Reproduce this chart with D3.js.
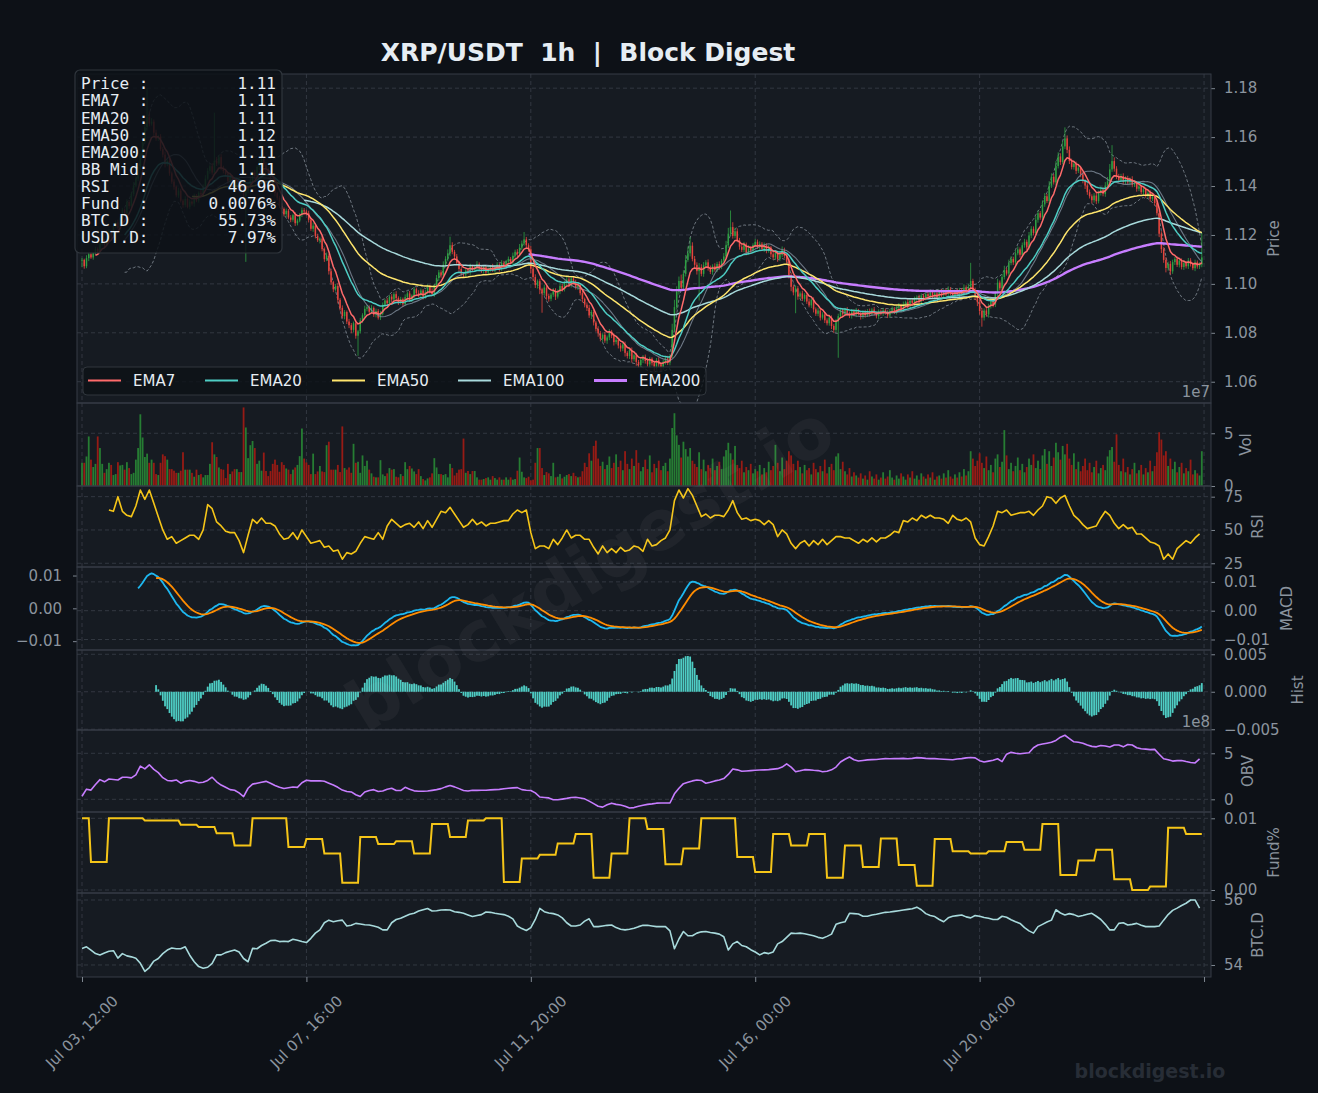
<!DOCTYPE html>
<html>
<head>
<meta charset="utf-8">
<title>XRP/USDT 1h | Block Digest</title>
<script src="https://cdn.jsdelivr.net/npm/d3@7"></script>
<style>
  body { margin: 0; background: #0d1117; }
</style>
</head>
<body>
<svg id="chart"></svg>
<script>
// ---------------- data (hourly from Jul 03 12:00) ----------------
const closes = [
  1.1098,1.1072,1.1105,1.1121,1.1108,1.1126,1.1142,1.1131,1.1165,1.1178,1.1160,1.1189,1.1215,1.1198,1.1236,1.1252,1.1229,1.1271,1.1302,1.1288,
  1.1335,1.1318,1.1367,1.1402,1.1431,1.1478,1.1525,1.1580,1.1641,1.1682,1.1655,1.1663,1.1618,1.1594,1.1602,1.1551,1.1528,1.1489,1.1503,1.1452,
  1.1418,1.1397,1.1362,1.1381,1.1340,1.1322,1.1347,1.1315,1.1336,1.1328,1.1359,1.1341,1.1372,1.1365,1.1398,1.1430,1.1462,1.1481,1.1455,1.1503,
  1.1492,1.1518,1.1476,1.1461,1.1449,1.1421,1.1437,1.1405,1.1398,1.1415,1.1382,1.1391,1.1360,1.1378,1.1402,1.1421,1.1455,1.1440,1.1478,1.1496,
  1.1510,1.1488,1.1469,1.1451,1.1422,1.1398,1.1371,1.1352,1.1319,1.1306,1.1285,1.1299,1.1271,1.1262,1.1281,1.1248,1.1259,1.1283,1.1301,1.1296,
  1.1289,1.1262,1.1225,1.1238,1.1196,1.1178,1.1185,1.1142,1.1101,1.1115,1.1052,1.1006,1.0978,1.0991,1.0935,1.0902,1.0868,1.0885,1.0846,1.0831,
  1.0812,1.0839,1.0788,1.0806,1.0851,1.0872,1.0898,1.0905,1.0886,1.0902,1.0874,1.0889,1.0862,1.0878,1.0915,1.0932,1.0921,1.0948,1.0936,1.0958,
  1.0942,1.0925,1.0938,1.0917,1.0946,1.0961,1.0935,1.0952,1.0978,1.0962,1.0955,1.0973,1.0948,1.0966,1.0989,1.0971,1.0958,1.0992,1.1024,1.1047,
  1.1035,1.1078,1.1102,1.1125,1.1158,1.1131,1.1112,1.1086,1.1061,1.1042,1.1038,1.1055,1.1049,1.1072,1.1058,1.1066,1.1081,1.1063,1.1052,1.1068,
  1.1047,1.1059,1.1071,1.1056,1.1068,1.1079,1.1062,1.1085,1.1073,1.1091,1.1102,1.1088,1.1115,1.1131,1.1122,1.1148,1.1165,1.1182,1.1158,1.1141,
  1.1062,1.1028,1.0995,1.1011,1.0978,1.0962,1.0985,1.0951,1.0939,1.0956,1.0972,1.0948,1.0969,1.0991,1.0978,1.1006,1.1018,1.0995,1.1022,1.1009,
  1.0987,1.0995,1.0962,1.0938,1.0915,1.0902,1.0871,1.0885,1.0842,1.0816,1.0798,1.0775,1.0792,1.0768,1.0781,1.0805,1.0788,1.0762,1.0771,1.0748,
  1.0736,1.0752,1.0718,1.0705,1.0729,1.0692,1.0708,1.0681,1.0668,1.0689,1.0702,1.0685,1.0671,1.0694,1.0676,1.0662,1.0688,1.0671,1.0659,1.0682,
  1.0695,1.0678,1.0705,1.0812,1.0905,1.0968,1.1012,1.0985,1.1041,1.1098,1.1125,1.1156,1.1102,1.1078,1.1052,1.1069,1.1041,1.1076,1.1088,1.1065,
  1.1049,1.1072,1.1058,1.1081,1.1069,1.1095,1.1112,1.1158,1.1205,1.1232,1.1196,1.1215,1.1178,1.1152,1.1139,1.1161,1.1128,1.1145,1.1136,1.1159,
  1.1172,1.1151,1.1164,1.1143,1.1158,1.1135,1.1149,1.1121,1.1108,1.1126,1.1102,1.1118,1.1139,1.1115,1.1092,1.1036,1.0988,1.0965,1.0982,1.0948,
  1.0961,1.0939,1.0955,1.0928,1.0912,1.0935,1.0896,1.0878,1.0891,1.0862,1.0875,1.0851,1.0839,1.0862,1.0828,1.0812,1.0845,1.0868,1.0892,1.0876,
  1.0895,1.0881,1.0869,1.0888,1.0874,1.0891,1.0879,1.0866,1.0885,1.0872,1.0889,1.0877,1.0895,1.0881,1.0868,1.0887,1.0879,1.0892,1.0883,1.0871,
  1.0889,1.0898,1.0885,1.0902,1.0911,1.0896,1.0918,1.0925,1.0909,1.0931,1.0922,1.0938,1.0945,1.0929,1.0952,1.0941,1.0958,1.0949,1.0966,1.0952,
  1.0961,1.0947,1.0968,1.0955,1.0972,1.0959,1.0978,1.0962,1.0951,1.0969,1.0958,1.0975,1.0961,1.0984,1.0969,1.0988,1.1012,1.0975,1.0948,1.0925,
  1.0889,1.0862,1.0891,1.0875,1.0908,1.0932,1.0915,1.0961,1.1005,1.0982,1.1028,1.1056,1.1042,1.1085,1.1102,1.1088,1.1125,1.1141,1.1119,1.1158,
  1.1172,1.1149,1.1198,1.1225,1.1208,1.1262,1.1289,1.1271,1.1325,1.1358,1.1339,1.1402,1.1438,1.1415,1.1482,1.1521,1.1498,1.1562,1.1595,1.1548,
  1.1502,1.1478,1.1491,1.1462,1.1475,1.1448,1.1421,1.1402,1.1375,1.1358,1.1342,1.1361,1.1338,1.1372,1.1385,1.1368,1.1402,1.1419,1.1468,1.1502,
  1.1471,1.1438,1.1425,1.1441,1.1418,1.1432,1.1415,1.1428,1.1405,1.1412,1.1389,1.1398,1.1375,1.1386,1.1361,1.1372,1.1348,1.1356,1.1331,1.1289,
  1.1205,1.1142,1.1098,1.1065,1.1082,1.1051,1.1089,1.1102,1.1078,1.1095,1.1069,1.1085,1.1072,1.1096,1.1081,1.1064,1.1088,1.1071,1.1079,1.1108
];

// wick length above / below the candle body, in 0.0001 price units
const upWick = [
  8,5,12,6,9,4,10,7,5,11,6,9,8,4,12,7,10,5,9,6, 11,7,9,14,8,12,10,15,18,118,22,14,9,12,7,10,8,13,6,9,
  7,10,5,12,8,6,11,7,9,5,10,8,6,12,9,14,11,8,13,197, 15,9,12,7,10,6,11,8,5,9,7,12,6,10,8,13,9,11,7,10,
  14,8,10,6,9,7,12,5,8,11,6,9,7,10,5,12,8,6,11,9, 7,10,6,12,8,9,5,11,7,13,8,10,6,9,12,7,10,8,6,11,
  9,7,12,6,10,8,13,9,7,11,6,10,8,12,9,7,11,6,10,8, 12,7,9,6,11,8,10,5,9,7,12,8,6,10,9,7,11,8,12,10,
  9,14,11,16,35,12,8,10,6,9,7,11,8,10,6,9,12,7,10,8, 6,9,7,11,8,10,5,12,9,7,10,8,13,9,11,15,12,30,10,8,
  14,9,11,7,10,6,12,8,9,7,11,10,8,12,9,7,13,8,10,9, 8,11,7,10,6,9,12,8,10,7,11,9,6,12,8,10,7,9,11,6,
  10,8,12,7,9,11,6,10,8,12,7,9,11,8,6,10,9,12,7,8, 9,11,8,25,30,22,18,26,15,20,28,35,14,12,10,16,11,13,9,12,
  10,8,12,9,11,7,14,18,24,68,20,15,12,10,9,11,8,13,10,7, 12,9,10,7,11,8,10,6,9,12,8,10,14,9,7,11,10,8,12,9,
  8,11,7,9,12,6,10,8,11,7,9,10,8,12,9,7,11,10,8,9, 7,10,6,9,8,11,7,10,6,9,8,10,7,11,6,9,8,10,7,9,
  8,10,7,9,11,8,10,6,12,9,7,10,8,11,9,7,10,8,12,9, 7,10,8,11,6,9,12,8,10,7,11,9,8,14,10,12,74,9,10,8,
  10,12,9,14,11,8,13,10,16,9,12,18,10,14,11,9,13,12,8,11, 12,9,14,11,10,15,12,9,16,13,10,18,14,11,20,17,13,22,45,12,
  14,10,12,9,11,8,10,7,9,11,8,10,12,9,13,10,14,18,22,65, 15,10,12,9,11,8,10,7,12,9,8,10,7,11,8,9,10,7,9,8,
  12,10,8,11,9,12,10,8,11,7,9,12,8,10,9,7,11,8,9,100
];
const downWick = [
  30,10,8,12,6,9,7,11,5,8,10,6,9,12,7,8,6,10,7,9, 8,11,6,9,7,10,12,8,9,14,11,8,12,9,10,7,11,13,8,10,
  9,12,8,10,7,11,9,6,10,8,12,7,9,11,8,10,6,12,9,8, 10,7,11,9,8,12,10,7,9,11,8,10,9,270,8,11,7,10,9,12,
  8,10,12,9,11,7,13,10,8,11,9,12,7,10,8,11,9,7,10,12, 9,11,8,12,10,7,13,9,11,8,14,10,12,9,15,11,8,13,10,12,
  14,10,12,82,9,11,8,10,12,7,9,11,8,10,7,9,12,8,10,9, 8,11,9,10,7,12,8,9,11,7,10,8,12,9,7,10,8,11,9,12,
  10,8,11,9,12,10,13,9,11,8,10,7,9,12,8,10,9,11,7,10, 8,11,9,7,10,8,12,9,10,7,11,8,10,9,12,8,10,9,11,10,
  18,15,12,14,20,80,11,16,12,10,9,14,8,11,10,9,12,8,10,11, 10,12,9,14,11,13,10,15,12,11,14,10,12,9,13,11,10,14,9,12,
  13,11,15,10,12,14,9,16,12,10,13,11,9,14,10,20,12,11,15,10, 12,10,11,8,9,10,12,15,9,11,8,13,10,12,14,120,10,12,9,11,
  9,12,8,10,11,9,8,10,12,9,11,10,8,12,9,10,11,8,10,9, 10,8,11,9,12,10,8,11,9,10,12,8,9,11,10,14,18,12,85,13,
  11,9,12,10,8,11,13,9,10,12,8,11,9,10,13,12,10,147,9,11, 8,10,9,11,7,10,8,12,9,10,7,11,8,10,9,12,8,10,9,11,
  9,11,8,10,12,9,10,8,11,9,10,12,8,10,9,11,8,10,9,12, 10,8,11,9,12,8,10,9,11,10,8,12,9,10,11,9,12,10,14,16,
  15,37,12,10,13,9,11,10,12,9,11,10,8,12,9,11,10,8,12,9, 10,12,9,11,10,8,12,9,11,10,8,12,10,9,11,10,12,9,11,14,
  12,10,11,13,9,12,10,14,11,9,13,10,12,9,11,10,12,9,11,10, 12,10,11,9,12,10,8,11,10,9,12,10,8,11,9,10,12,9,11,10,
  14,16,12,18,11,13,10,12,9,11,10,12,9,11,10,8,12,9,10,11
];

// hourly volume, x1e7
const volumes = [
  2.2,2.2,2.8,4.7,2.5,1.8,2.1,4.7,3.6,2.1,1.25,1.6,2.2,2.0,1.04,1.13,2.26,1.95,2.0,1.55,
  2.26,1.7,1.13,1.25,2.5,3.6,6.8,4.6,2.75,3.07,2.2,2.5,2.2,1.13,1.04,2.2,3.0,2.83,2.5,1.6,
  1.6,1.45,1.25,1.25,1.45,3.2,1.55,1.55,1.55,1.25,0.88,1.55,1.04,1.13,0.82,1.04,1.04,2.1,4.15,3.0,
  2.75,1.76,1.6,1.55,0.75,2.1,1.13,1.38,1.6,1.6,1.32,1.32,7.45,5.55,2.64,3.87,4.27,3.6,2.1,2.4,
  1.45,3.17,1.42,0.94,1.42,2.1,2.5,2.0,1.35,2.26,2.0,1.66,1.55,1.13,1.55,1.76,2.0,2.83,5.45,2.6,
  2.23,2.0,1.13,3.07,1.13,1.38,1.9,1.38,1.32,3.87,4.2,1.55,1.55,1.55,2.0,1.32,5.65,1.7,1.55,1.76,
  1.25,4.0,2.2,2.3,1.25,2.9,1.9,2.4,1.55,1.2,0.88,0.82,0.82,2.45,1.1,0.94,1.2,1.7,1.55,1.6,
  0.88,0.82,1.13,0.94,2.26,1.6,1.9,1.66,1.38,1.13,1.6,0.94,0.66,0.53,0.72,0.82,1.2,2.64,1.76,1.13,
  1.13,1.04,1.13,0.82,2.1,1.7,1.0,1.25,1.55,1.6,4.5,1.25,1.42,1.13,1.42,1.42,0.82,0.6,0.6,0.66,
  0.75,0.82,0.6,0.94,0.75,0.6,0.82,0.6,0.6,0.82,0.6,0.82,0.6,0.66,1.45,2.7,1.35,0.82,0.75,0.88,
  0.53,0.6,2.2,3.6,3.6,1.7,1.04,1.32,1.2,0.94,2.2,0.82,0.88,1.13,0.72,0.88,1.04,1.13,0.94,1.25,
  0.94,0.82,0.88,
  1.4,2.2,1.8,3.1,2.4,3.8,4.3,2.6,1.9,2.3,1.6,2.0,2.8,1.7,2.2,3.0,1.8,
  2.4,1.5,3.3,2.1,1.6,2.6,1.9,3.4,2.2,1.4,1.8,2.5,1.6,2.9,1.3,2.1,1.7,2.4,1.5,1.9,2.2,1.4,2.6,
  5.5,6.9,4.8,3.9,2.7,4.2,3.5,2.8,3.6,2.4,
  2.1,1.8,3.2,1.6,2.5,1.4,2.0,1.7,2.6,1.5,1.9,2.3,1.6,2.8,3.4,4.1,3.1,2.5,3.8,2.0,1.7,2.4,1.3,1.8,1.5,2.1,1.2,1.6,
  1.4,2.0,1.1,1.7,1.3,2.3,1.5,1.9,3.9,2.2,1.4,2.7,1.6,2.4,3.3,2.9,2.1,1.5,2.4,1.8,
  1.2,2.0,1.5,1.7,1.1,2.2,1.6,1.3,1.9,1.4,2.5,1.2,1.8,2.1,1.5,2.8,3.1,1.6,2.3,1.4,1.1,1.7,0.9,1.3,1.0,
  0.8,1.2,0.7,1.0,0.6,1.4,0.9,0.7,1.1,0.6,0.8,1.3,0.7,0.9,1.5,0.8,0.6,1.0,0.7,1.2,
  0.9,0.6,1.1,0.8,1.4,0.7,1.0,0.6,1.2,0.9,0.7,1.1,0.8,1.3,0.6,0.9,1.0,0.7,1.2,0.8,
  1.5,0.9,0.7,1.1,0.8,1.3,0.9,1.6,1.0,1.4,
  3.3,2.6,1.9,2.4,3.1,2.2,1.7,2.8,1.5,2.0,1.3,2.6,3.0,1.8,2.3,5.3,2.9,1.6,2.2,1.4,1.9,2.7,1.5,2.1,1.3,
  1.8,2.6,2.0,3.0,1.7,2.4,1.6,2.9,3.5,2.1,3.3,1.9,2.7,4.1,3.2,2.5,3.8,3.0,4.0,2.6,2.0,3.1,1.6,2.3,1.4,
  1.9,2.6,1.5,2.2,1.3,1.8,2.4,1.2,1.7,2.0,1.5,2.8,3.4,3.7,2.3,4.9,2.0,1.4,2.6,1.3,
  1.8,1.1,1.6,2.2,1.2,1.5,2.0,1.1,1.7,1.3,2.4,1.4,1.9,3.2,
  5.1,4.4,2.9,3.3,1.9,2.6,1.6,2.3,1.3,1.8,2.2,1.2,1.7,1.4,2.5,1.1,1.5,1.2,1.0,3.3
];

// RSI(14), every 2 hours from hour 12
const rsiValues = [
  65,64,75,64,61,60,68,80,73,80, 70,60,50,43,45,40,42,44,46,46,
  43,50,69,66,56,53,49,48,48,42, 33,46,58,55,59,55,55,53,47,43,
  44,48,43,50,45,40,41,42,37,38, 34,35,28,33,32,34,40,45,44,43,
  48,43,53,58,55,52,54,55,52,56, 51,57,52,58,64,63,67,62,57,52,
  54,58,54,56,53,55,55,56,57,57, 62,65,63,65,48,36,38,38,36,43,
  39,44,50,44,46,46,43,43,37,32, 38,33,36,33,37,34,35,38,37,34,
  43,38,39,42,44,50,72,80,74,81, 76,68,60,62,59,61,61,60,65,72,
  63,58,59,57,58,57,54,57,54,45, 50,47,40,36,40,42,38,42,39,43,
  39,42,45,45,44,44,42,40,43,41, 44,41,44,44,46,49,48,57,56,59,
  57,61,59,61,59,59,58,55,61,58, 57,59,56,44,39,38,45,53,64,63,
  65,61,62,63,63,64,61,65,68,75, 74,70,74,76,68,61,58,54,51,52,
  53,59,64,61,55,51,54,51,52,47, 47,44,41,40,38,28,32,28,36,39,
  42,40,44,47
];

// on-balance volume, x1e8, every 2 hours
const obvValues = [
  0.33,1.10,1.00,1.60,2.14,1.90,2.20,2.15,2.10,2.40, 2.40,2.33,2.65,3.60,3.30,3.75,3.25,2.90,2.35,2.05,
  2.00,2.10,1.75,1.95,2.05,1.95,1.80,1.85,2.05,2.40, 1.90,1.55,1.30,1.05,0.98,0.70,0.30,1.20,1.65,1.75,
  1.85,1.95,1.75,1.50,1.30,1.17,1.25,1.34,1.30,1.80, 2.07,2.00,2.00,2.02,1.96,1.75,1.55,1.30,1.00,0.85,
  0.80,0.50,0.30,0.80,0.95,1.05,0.85,0.90,1.10,1.20, 0.95,0.95,1.30,1.10,0.92,0.88,0.87,0.90,0.97,1.05,
  1.16,1.35,1.50,1.35,1.16,0.95,0.90,0.98,0.97,0.98, 0.99,1.02,1.05,1.08,1.15,1.20,1.24,1.27,1.05,0.98,
  0.95,0.70,0.25,0.20,0.15,-0.05,-0.05,0.02,0.10,0.20, 0.22,0.15,0.05,-0.20,-0.47,-0.75,-0.85,-0.60,-0.42,-0.55,
  -0.62,-0.75,-0.95,-0.90,-0.76,-0.65,-0.55,-0.50,-0.42,-0.40, -0.40,-0.40,0.60,1.20,1.70,1.85,2.00,2.10,2.05,1.75,
  1.85,2.00,2.10,2.25,2.70,3.30,3.20,3.05,3.08,3.12, 3.15,3.18,3.20,3.22,3.28,3.33,3.50,3.85,3.50,3.00,
  3.10,3.22,3.20,3.15,3.12,3.00,3.05,3.20,3.50,4.05, 4.35,4.60,4.30,4.16,4.22,4.28,4.31,4.33,4.38,4.42,
  4.40,4.43,4.42,4.45,4.40,4.45,4.53,4.50,4.45,4.42, 4.42,4.38,4.35,4.32,4.30,4.38,4.42,4.50,4.55,4.50,
  4.20,4.05,4.15,4.24,4.40,4.10,4.90,5.10,5.00,4.95, 5.00,5.05,5.60,5.90,6.00,6.10,6.20,6.40,6.75,6.96,
  6.60,6.25,6.20,6.10,5.90,5.75,5.70,5.85,5.80,5.68, 5.90,5.90,5.70,5.95,5.90,5.60,5.50,5.45,5.40,5.42,
  4.90,4.40,4.30,4.15,4.20,4.22,4.10,4.00,3.95,4.40
];

// BTC dominance %, every 2 hours
const btcDominance = [
  54.51,54.56,54.46,54.35,54.31,54.37,54.42,54.44,54.21,54.35, 54.28,54.25,54.21,54.05,53.80,53.92,54.12,54.20,54.35,54.46,
  54.52,54.50,54.50,54.56,54.30,54.10,53.95,53.90,53.93,54.05, 54.31,54.31,54.38,54.42,54.46,54.40,54.20,54.10,54.51,54.50,
  54.60,54.67,54.75,54.76,54.72,54.73,54.72,54.79,54.76,54.72, 54.69,54.82,54.98,55.08,55.30,55.38,55.33,55.36,55.38,55.20,
  55.22,55.28,55.26,55.24,55.23,55.20,55.16,55.08,55.08,55.30, 55.40,55.44,55.50,55.56,55.59,55.66,55.70,55.74,55.66,55.67,
  55.69,55.70,55.69,55.64,55.62,55.59,55.54,55.49,55.52,55.55, 55.63,55.62,55.59,55.57,55.55,55.50,55.42,55.20,55.12,55.06,
  55.15,55.40,55.74,55.64,55.60,55.58,55.54,55.45,55.30,55.20, 55.20,55.23,55.35,55.42,55.18,55.18,55.20,55.22,55.23,55.15,
  55.10,55.08,55.10,55.13,55.18,55.22,55.22,55.20,55.18,55.18, 55.18,55.05,54.50,54.80,55.03,54.90,54.90,54.98,55.02,55.03,
  55.00,54.98,54.95,54.87,54.46,54.65,54.72,54.60,54.56,54.47, 54.40,54.31,54.38,54.35,54.40,54.65,54.72,54.85,54.98,54.97,
  54.98,54.96,54.93,54.90,54.85,54.82,54.88,54.95,55.25,55.30, 55.33,55.59,55.58,55.57,55.50,55.50,55.54,55.56,55.59,55.62,
  55.63,55.65,55.67,55.69,55.71,55.73,55.78,55.70,55.58,55.52, 55.49,55.40,55.33,55.45,55.50,55.52,55.54,55.48,55.45,55.52,
  55.50,55.46,55.44,55.40,55.40,55.50,55.47,55.39,55.33,55.28, 55.15,55.05,54.98,55.18,55.25,55.32,55.38,55.70,55.60,55.54,
  55.58,55.55,55.49,55.52,55.56,55.59,55.50,55.40,55.25,55.08, 55.08,55.28,55.30,55.23,55.25,55.28,55.22,55.18,55.18,55.18,
  55.20,55.38,55.55,55.68,55.75,55.83,55.90,56.00,56.00,55.75
];

// funding rate %, first value from hour 0, then one per 8h period starting hour 4
const fundingRates = [
  0.0100,0.0039,0.0100,0.0100,0.0097,0.0097,0.0091,0.0088,0.0079,0.0062,
  0.0100,0.0100,0.0060,0.0071,0.0051,0.0010,0.0074,0.0064,0.0068,0.0051,
  0.0092,0.0074,0.0097,0.0100,0.0011,0.0044,0.0049,0.0065,0.0078,0.0017,
  0.0051,0.0100,0.0085,0.0036,0.0058,0.0100,0.0100,0.0046,0.0025,0.0078,
  0.0062,0.0078,0.0017,0.0062,0.0032,0.0072,0.0035,0.0006,0.0071,0.0054,
  0.0051,0.0054,0.0067,0.0056,0.0092,0.0021,0.0041,0.0056,0.0015,0.0000,
  0.0005,0.0087,0.0078
];

const xTickValues = [0, 100, 200, 300, 400, 500];
const xTickLabels = ['Jul 03, 12:00', 'Jul 07, 16:00', 'Jul 11, 20:00', 'Jul 16, 00:00', 'Jul 20, 04:00', ''];
const priceTicks = [1.06, 1.08, 1.10, 1.12, 1.14, 1.16, 1.18];
const volTicks = [0, 5];
const rsiTicks = [25, 50, 75];
const macdTicks = [-0.01, 0, 0.01];
const histTicks = [-0.005, 0, 0.005];
const obvTicks = [0, 5];
const fundTicks = [0, 0.01];
const btcdTicks = [54, 56];

const infoLabels = ['Price :', 'EMA7  :', 'EMA20 :', 'EMA50 :', 'EMA200:', 'BB Mid:', 'RSI   :', 'Fund  :', 'BTC.D :', 'USDT.D:'];
const infoValues = ['1.11', '1.11', '1.11', '1.12', '1.11', '1.11', '46.96', '0.0076%', '55.73%', '7.97%'];

const emaNames = ['EMA7', 'EMA20', 'EMA50', 'EMA100', 'EMA200'];
const emaSpans = [7, 20, 50, 100, 200];
const emaColors = ['#ff6b6b', '#4ecdc4', '#ffe66d', '#a8dadc', '#c77dff'];

// ---------------- layout ----------------
const width = 1318, height = 1093;
const plotLeft = 77, plotRight = 1211;
const sansFont = "'DejaVu Sans', sans-serif";
const monoFont = "'DejaVu Sans Mono', monospace";
const gridColor = '#353b45';
const borderColor = '#363c46';
const tickColor = '#8b949e';
const upColor = '#2ea043', downColor = '#e5453d';

const svg = d3.select('#chart')
  .attr('width', width).attr('height', height)
  .style('font-family', sansFont);
svg.append('rect').attr('width', width).attr('height', height).attr('fill', '#0d1117');

const x = d3.scaleLinear().domain([-2.23, 503.1]).range([plotLeft, plotRight]);
const hourPx = x(1) - x(0);

/**
 * Indicator helpers (pandas style ewm, adjust=False, with min periods)
 */
function ewm(src, alpha, minPeriods) {
  let prev = null, n = 0;
  return src.map(v => {
    if (v == null) return null;
    prev = prev == null ? v : alpha * v + (1 - alpha) * prev;
    n++;
    return n >= minPeriods ? prev : null;
  });
}
const ema = (src, span) => ewm(src, 2 / (span + 1), span);

const opens = closes.map((c, i) => i ? closes[i - 1] : c);
const candles = closes.map((c, i) => ({
  t: i,
  open: opens[i],
  close: c,
  high: Math.max(opens[i], c) + upWick[i] * 1e-4,
  low: Math.min(opens[i], c) - downWick[i] * 1e-4,
  up: c >= opens[i]
}));

const emaLines = emaSpans.map(s => ema(closes, s));

const bbMid = [], bbUpper = [], bbLower = [];
closes.forEach((c, i) => {
  if (i < 19) { bbMid.push(null); bbUpper.push(null); bbLower.push(null); return; }
  const win = closes.slice(i - 19, i + 1);
  const m = d3.mean(win);
  const sd = Math.sqrt(d3.mean(win, v => (v - m) * (v - m)));
  bbMid.push(m); bbUpper.push(m + 2 * sd); bbLower.push(m - 2 * sd);
});

const ema12 = ema(closes, 12), ema26 = ema(closes, 26);
const macd = ema12.map((v, i) => (v == null || ema26[i] == null) ? null : v - ema26[i]);
const signal = ema(macd, 9);
const hist = macd.map((v, i) => signal[i] == null ? null : v - signal[i]);

/**
 * Panel builder
 */
const panels = [];
function addPanel(opts) {
  const { id, top, bottom, domain, ticks, fmt, label, labelX } = opts;
  const y = d3.scaleLinear().domain(domain).range([bottom, top]);
  const g = svg.append('g').attr('class', 'panel-' + id);

  g.append('rect')
    .attr('x', plotLeft).attr('y', top)
    .attr('width', plotRight - plotLeft).attr('height', bottom - top)
    .attr('fill', '#161b22');

  // Grid
  g.append('g').selectAll('line').data(xTickValues).join('line')
    .attr('x1', d => x(d)).attr('x2', d => x(d))
    .attr('y1', top).attr('y2', bottom)
    .attr('stroke', gridColor).attr('stroke-width', 0.9).attr('stroke-dasharray', '4,3');
  g.append('g').selectAll('line').data(ticks).join('line')
    .attr('x1', plotLeft).attr('x2', plotRight)
    .attr('y1', d => y(d)).attr('y2', d => y(d))
    .attr('stroke', gridColor).attr('stroke-width', 0.9).attr('stroke-dasharray', '4,3');

  svg.append('clipPath').attr('id', 'clip-' + id)
    .append('rect')
    .attr('x', plotLeft).attr('y', top)
    .attr('width', plotRight - plotLeft).attr('height', bottom - top);
  const plot = g.append('g').attr('clip-path', `url(#clip-${id})`);

  // Right axis
  const axisG = g.append('g')
    .attr('transform', `translate(${plotRight},0)`)
    .call(d3.axisRight(y).tickValues(ticks).tickFormat(fmt).tickSize(4).tickPadding(9));
  styleAxis(axisG);

  g.append('text')
    .attr('transform', `translate(${labelX},${(top + bottom) / 2}) rotate(-90)`)
    .attr('text-anchor', 'middle')
    .attr('dominant-baseline', 'central')
    .attr('font-size', 15)
    .attr('fill', tickColor)
    .text(label);

  const p = { id, top, bottom, y, g, plot };
  panels.push(p);
  return p;
}

function styleAxis(axisG) {
  axisG.select('.domain').remove();
  axisG.selectAll('line').attr('stroke', tickColor).attr('stroke-width', 0.9);
  axisG.selectAll('text')
    .attr('fill', tickColor)
    .attr('font-size', 15)
    .attr('font-family', sansFont);
}

const f2 = d3.format('.2f'), f3 = d3.format('.3f'), fInt = d3.format('d');

const pricePanel = addPanel({ id: 'price', top: 74, bottom: 403, domain: [1.0513, 1.1858], ticks: priceTicks, fmt: f2, label: 'Price', labelX: 1274 });
const volPanel = addPanel({ id: 'vol', top: 403, bottom: 486, domain: [0, 7.87], ticks: volTicks, fmt: fInt, label: 'Vol', labelX: 1246 });
const rsiPanel = addPanel({ id: 'rsi', top: 486, bottom: 567, domain: [22.2, 83.0], ticks: rsiTicks, fmt: fInt, label: 'RSI', labelX: 1258 });
const macdPanel = addPanel({ id: 'macd', top: 567, bottom: 650, domain: [-0.01365, 0.01517], ticks: macdTicks, fmt: f2, label: 'MACD', labelX: 1287 });
const histPanel = addPanel({ id: 'hist', top: 650, bottom: 730, domain: [-0.0051, 0.00557], ticks: histTicks, fmt: f3, label: 'Hist', labelX: 1298 });
const obvPanel = addPanel({ id: 'obv', top: 730, bottom: 812, domain: [-1.38, 7.53], ticks: obvTicks, fmt: fInt, label: 'OBV', labelX: 1248 });
const fundPanel = addPanel({ id: 'fund', top: 812, bottom: 893, domain: [-0.00042, 0.01088], ticks: fundTicks, fmt: f2, label: 'Fund%', labelX: 1274 });
const btcdPanel = addPanel({ id: 'btcd', top: 893, bottom: 977, domain: [53.63, 56.215], ticks: btcdTicks, fmt: fInt, label: 'BTC.D', labelX: 1258 });

// MACD panel also carries a twin left axis with its own limits
const macdLeftY = d3.scaleLinear().domain([-0.0127, 0.0126]).range([650, 567]);
const macdLeft = svg.append('g')
  .attr('transform', `translate(${plotLeft},0)`)
  .call(d3.axisLeft(macdLeftY).tickValues(macdTicks).tickFormat(f2).tickSize(4).tickPadding(11));
styleAxis(macdLeft);

function seriesLine(panel, values, color, w, step = 1, start = 0) {
  const pts = values.map((v, i) => [start + i * step, v]);
  return panel.plot.append('path')
    .datum(pts)
    .attr('fill', 'none')
    .attr('stroke', color)
    .attr('stroke-width', w)
    .attr('stroke-linejoin', 'round')
    .attr('d', d3.line().defined(d => d[1] != null).x(d => x(d[0])).y(d => panel.y(d[1])));
}

// ---------------- price panel ----------------
seriesLine(pricePanel, bbUpper, '#8b949e', 1).attr('stroke-dasharray', '3,2').attr('opacity', 0.75);
seriesLine(pricePanel, bbLower, '#8b949e', 1).attr('stroke-dasharray', '3,2').attr('opacity', 0.75);

const candleG = pricePanel.plot.append('g');
candleG.selectAll('line').data(candles).join('line')
  .attr('x1', d => x(d.t)).attr('x2', d => x(d.t))
  .attr('y1', d => pricePanel.y(d.high)).attr('y2', d => pricePanel.y(d.low))
  .attr('stroke', d => d.up ? upColor : downColor)
  .attr('stroke-width', 0.8);
candleG.selectAll('rect').data(candles).join('rect')
  .attr('x', d => x(d.t) - hourPx * 0.33)
  .attr('width', hourPx * 0.66)
  .attr('y', d => pricePanel.y(Math.max(d.open, d.close)))
  .attr('height', d => Math.max(0.8, Math.abs(pricePanel.y(d.open) - pricePanel.y(d.close))))
  .attr('fill', d => d.up ? upColor : downColor);

seriesLine(pricePanel, bbMid, '#7d8896', 1.1).attr('opacity', 0.85);
[4, 3, 2, 1, 0].forEach(k => {
  seriesLine(pricePanel, emaLines[k], emaColors[k], k === 4 ? 2.4 : 1.5);
});

// ---------------- volume ----------------
volPanel.plot.selectAll('rect').data(volumes).join('rect')
  .attr('x', (d, i) => x(i) - hourPx * 0.4)
  .attr('width', hourPx * 0.8)
  .attr('y', d => volPanel.y(d))
  .attr('height', d => volPanel.y(0) - volPanel.y(d))
  .attr('fill', (d, i) => candles[i].up ? '#267d33' : '#971b15');

// ---------------- RSI / MACD / Hist ----------------
seriesLine(rsiPanel, rsiValues, '#f5c518', 1.6, 2, 12);
seriesLine(macdPanel, macd, '#1eb8f0', 1.8);
seriesLine(macdPanel, signal, '#ff8c00', 1.8);

histPanel.plot.selectAll('rect').data(hist.map((v, i) => [i, v]).filter(d => d[1] != null)).join('rect')
  .attr('x', d => x(d[0]) - hourPx * 0.4)
  .attr('width', hourPx * 0.8)
  .attr('y', d => histPanel.y(Math.max(0, d[1])))
  .attr('height', d => Math.abs(histPanel.y(d[1]) - histPanel.y(0)))
  .attr('fill', '#4ecdc4');

// ---------------- OBV / funding / BTC.D ----------------
seriesLine(obvPanel, obvValues, '#c77dff', 1.6, 2);

const fundStarts = [0].concat(d3.range(4, 500, 8));
const fundPts = [];
fundingRates.forEach((v, k) => {
  const end = k < fundingRates.length - 1 ? fundStarts[k + 1] - 1 : closes.length - 1;
  fundPts.push([fundStarts[k], v], [end, v]);
});
fundPanel.plot.append('path')
  .datum(fundPts)
  .attr('fill', 'none')
  .attr('stroke', '#f5c518')
  .attr('stroke-width', 2)
  .attr('d', d3.line().x(d => x(d[0])).y(d => fundPanel.y(d[1])));

seriesLine(btcdPanel, btcDominance, '#a8dadc', 1.6, 2);

// ---------------- panel borders ----------------
panels.forEach(p => {
  svg.append('rect')
    .attr('x', plotLeft).attr('y', p.top)
    .attr('width', plotRight - plotLeft).attr('height', p.bottom - p.top)
    .attr('fill', 'none').attr('stroke', borderColor).attr('stroke-width', 1);
});

// offset texts
svg.append('text').attr('x', 1210).attr('y', 397).attr('text-anchor', 'end')
  .attr('font-size', 15).attr('fill', tickColor).text('1e7');
svg.append('text').attr('x', 1210).attr('y', 727).attr('text-anchor', 'end')
  .attr('font-size', 15).attr('fill', tickColor).text('1e8');

// ---------------- x axis ----------------
const xAxisG = svg.append('g')
  .attr('transform', `translate(0,${btcdPanel.bottom})`)
  .call(d3.axisBottom(x).tickValues(xTickValues).tickFormat('').tickSize(5));
styleAxis(xAxisG);
svg.append('g').selectAll('text').data(xTickValues).join('text')
  .attr('transform', d => `translate(${x(d)},1032) rotate(-45)`)
  .attr('text-anchor', 'middle')
  .attr('dominant-baseline', 'central')
  .attr('font-size', 15)
  .attr('fill', tickColor)
  .text((d, i) => xTickLabels[i]);

// ---------------- title & watermarks ----------------
svg.append('text')
  .attr('x', 588).attr('y', 61)
  .attr('text-anchor', 'middle')
  .attr('font-size', 25).attr('font-weight', 'bold')
  .attr('fill', '#e6edf3')
  .style('white-space', 'pre')
  .text('XRP/USDT  1h  |  Block Digest');

svg.append('text')
  .attr('transform', 'translate(590,568) rotate(-31.5)')
  .attr('text-anchor', 'middle')
  .attr('dominant-baseline', 'central')
  .attr('font-size', 70).attr('font-weight', 'bold')
  .attr('fill', '#ffffff').attr('fill-opacity', 0.045)
  .text('blockdigest.io');

svg.append('text')
  .attr('x', 1150).attr('y', 1078)
  .attr('text-anchor', 'middle')
  .attr('font-size', 19).attr('font-weight', 'bold')
  .attr('fill', '#272d36')
  .text('blockdigest.io');

// ---------------- legend ----------------
const legendG = svg.append('g');
legendG.append('rect')
  .attr('x', 83).attr('y', 367).attr('width', 623).attr('height', 28).attr('rx', 4)
  .attr('fill', '#0d1117').attr('fill-opacity', 0.8)
  .attr('stroke', '#30363d');
const legendX = [88, 205, 332, 458, 594];
emaNames.forEach((name, k) => {
  legendG.append('line')
    .attr('x1', legendX[k]).attr('x2', legendX[k] + 33)
    .attr('y1', 380.5).attr('y2', 380.5)
    .attr('stroke', emaColors[k]).attr('stroke-width', k === 4 ? 3 : 2);
  legendG.append('text')
    .attr('x', legendX[k] + 45).attr('y', 386)
    .attr('font-size', 15).attr('fill', '#e6edf3')
    .text(name);
});

// ---------------- info box ----------------
const infoG = svg.append('g').style('font-family', monoFont);
infoG.append('rect')
  .attr('x', 75).attr('y', 70).attr('width', 207).attr('height', 183).attr('rx', 5)
  .attr('fill', '#0d1117').attr('fill-opacity', 0.86)
  .attr('stroke', '#30363d').attr('stroke-width', 1.2);
infoLabels.forEach((lab, i) => {
  const yy = 89.3 + i * 17.1;
  infoG.append('text')
    .attr('x', 81).attr('y', yy)
    .attr('font-size', 16).attr('fill', '#e6edf3')
    .style('white-space', 'pre')
    .text(lab);
  infoG.append('text')
    .attr('x', 276).attr('y', yy)
    .attr('text-anchor', 'end')
    .attr('font-size', 16).attr('fill', '#e6edf3')
    .text(infoValues[i]);
});
</script>
</body>
</html>
